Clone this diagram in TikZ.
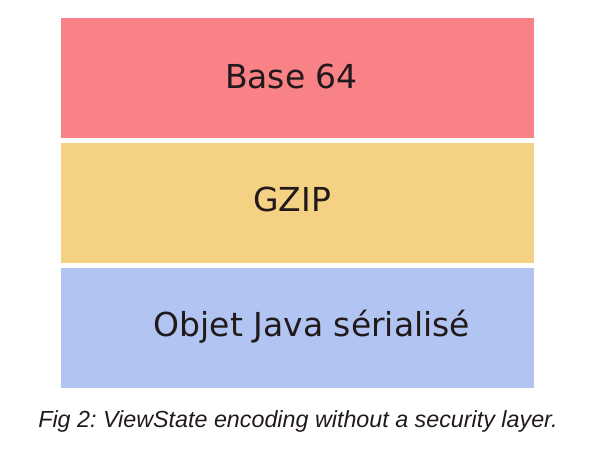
\documentclass[tikz,border=0pt]{standalone}
\usepackage{fontspec}
\setmainfont{DejaVu Sans}
\newfontfamily\capfont{Liberation Sans}
\definecolor{redfill}{HTML}{F88285}
\definecolor{yelfill}{HTML}{F5D283}
\definecolor{bluefill}{HTML}{B1C4F2}
\definecolor{txt}{HTML}{221A1A}
\frenchspacing
\begin{document}
\begin{tikzpicture}[x=1pt,y=1pt,
  layer/.style={draw=none,minimum width=473pt,minimum height=120pt,inner sep=0pt,anchor=north west},
  lbl/.style={font=\fontsize{33}{39}\selectfont,text=txt,inner sep=0pt}]
\useasboundingbox (0,0) rectangle (597,470);
\node[layer,fill=redfill] (r) at (61,452) {};
\node[layer,fill=yelfill] (y) at (61,327) {};
\node[layer,fill=bluefill] (b) at (61,202) {};
\node[lbl] (tr) at (291.5,394) {Base 64};
\node[lbl] (ty) at (292,271) {GZIP};
\node[lbl] (tb) at (312,143) {Objet Java sérialisé};
\node[font=\capfont\itshape\fontsize{23.3}{28}\selectfont,text=txt,inner sep=0pt] (cap) at (298,49) {Fig 2: ViewState encoding without a security layer.};
\end{tikzpicture}
\end{document}
